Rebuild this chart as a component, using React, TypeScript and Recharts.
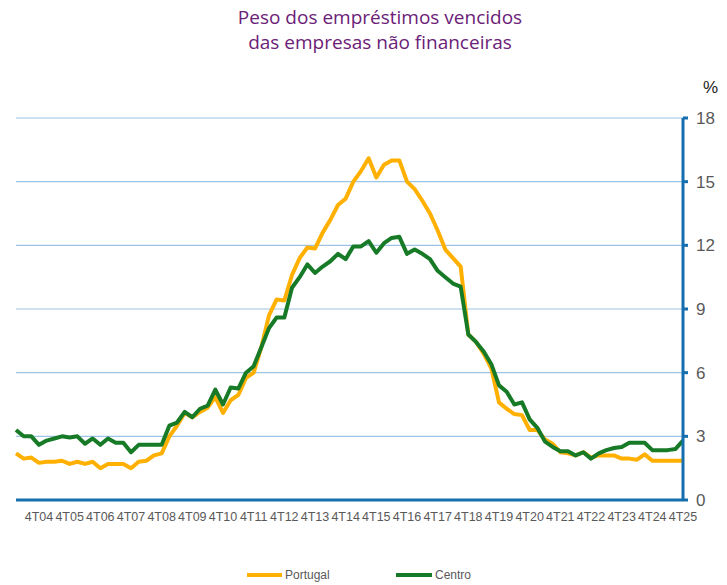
import React from 'react';
import {
  LineChart, Line, XAxis, YAxis, CartesianGrid,
} from 'recharts';

// 1T04 .. 4T25, quarterly
const years = ['04', '05', '06', '07', '08', '09', '10', '11', '12', '13', '14',
  '15', '16', '17', '18', '19', '20', '21', '22', '23', '24', '25'];

const quarters: string[] = [];
years.forEach((y) => {
  for (let q = 1; q <= 4; q++) quarters.push(`${q}T${y}`);
});

const portugal = [
  2.2, 1.95, 2.0, 1.75, 1.8, 1.8, 1.85, 1.7, 1.8, 1.7,
  1.8, 1.5, 1.7, 1.7, 1.7, 1.5, 1.8, 1.85, 2.1, 2.2,
  3.0, 3.5, 4.1, 3.9, 4.15, 4.35, 4.85, 4.1, 4.7, 4.95,
  5.75, 6.0, 7.2, 8.7, 9.45, 9.4, 10.6, 11.4, 11.9, 11.85,
  12.6, 13.2, 13.9, 14.2, 15.0, 15.5, 16.1, 15.2, 15.8, 16.0,
  16.0, 15.0, 14.65, 14.1, 13.5, 12.7, 11.8, 11.4, 11.0, 7.8,
  7.45, 6.9, 6.2, 4.6, 4.3, 4.05, 4.0, 3.3, 3.3, 2.85,
  2.65, 2.25, 2.2, 2.1, 2.25, 2.0, 2.1, 2.1, 2.1, 1.95,
  1.95, 1.9, 2.15, 1.85, 1.85, 1.85, 1.85, 1.85,
];

const centro = [
  3.3, 3.0, 3.0, 2.6, 2.8, 2.9, 3.0, 2.95, 3.0, 2.65,
  2.9, 2.6, 2.9, 2.7, 2.7, 2.25, 2.6, 2.6, 2.6, 2.6,
  3.5, 3.65, 4.15, 3.9, 4.3, 4.45, 5.2, 4.5, 5.3, 5.25,
  6.0, 6.3, 7.2, 8.1, 8.6, 8.6, 10.0, 10.5, 11.1, 10.7,
  11.0, 11.25, 11.6, 11.35, 11.95, 11.95, 12.2, 11.65, 12.1, 12.35,
  12.4, 11.6, 11.8, 11.6, 11.35, 10.8, 10.5, 10.2, 10.05, 7.8,
  7.45, 7.0, 6.4, 5.4, 5.1, 4.5, 4.6, 3.8, 3.4, 2.75,
  2.5, 2.3, 2.3, 2.1, 2.25, 1.95, 2.2, 2.35, 2.45, 2.5,
  2.7, 2.7, 2.7, 2.35, 2.35, 2.35, 2.4, 2.8,
];

const yTicks = [0, 3, 6, 9, 12, 15, 18];
const xTicks = quarters.filter((q) => q.startsWith('4T'));

const data = quarters.map((q, i) => ({ q, portugal: portugal[i], centro: centro[i] }));

const ORANGE = '#FFB000';
const GREEN = '#177A27';
const BLUE = '#156EAD';
const GREY = '#595959';

export default function App() {
  return (
    <div style={{ position: 'absolute', left: 0, top: 0, width: 727, height: 585, background: '#fff', fontFamily: '"Liberation Sans", Arial, sans-serif' }}>
      <div style={{
        position: 'absolute', left: 0, top: 5, width: 760, textAlign: 'center',
        color: '#6B2177', fontFamily: '"Open Sans", sans-serif', fontSize: 19, lineHeight: '25px',
      }}>
        Peso dos empréstimos vencidos<br />das empresas não financeiras
      </div>
      <div style={{ position: 'absolute', left: 703, top: 78, color: '#222', fontSize: 17 }}>%</div>
      <LineChart
        width={727}
        height={585}
        data={data}
        margin={{ top: 118, right: 0, bottom: 55, left: 16 }}
      >
        <CartesianGrid vertical={false} stroke="#9DC3E6" strokeWidth={1.2} />
        <XAxis
          dataKey="q"
          ticks={xTicks}
          interval={0}
          height={30}
          axisLine={{ stroke: BLUE, strokeWidth: 3 }}
          tickLine={false}
          tick={{ fill: GREY, fontSize: 12.5 }}
          tickMargin={6}
        />
        <YAxis
          orientation="right"
          domain={[0, 18]}
          ticks={yTicks}
          interval={0}
          axisLine={{ stroke: BLUE, strokeWidth: 3 }}
          tickLine={{ stroke: BLUE, strokeWidth: 3 }}
          tickSize={5}
          tickMargin={8}
          tick={{ fill: GREY, fontSize: 17, textAnchor: 'start' }}
          width={44}
        />
        <Line type="linear" dataKey="portugal" stroke={ORANGE} strokeWidth={4} dot={false} isAnimationActive={false} strokeLinejoin="round" />
        <Line type="linear" dataKey="centro" stroke={GREEN} strokeWidth={4} dot={false} isAnimationActive={false} strokeLinejoin="round" />
      </LineChart>
      <div style={{ position: 'absolute', left: 247, top: 568, display: 'flex', alignItems: 'center', color: GREY, fontSize: 12 }}>
        <span style={{ display: 'inline-block', width: 35, height: 4, background: ORANGE, marginRight: 3 }} />
        Portugal
      </div>
      <div style={{ position: 'absolute', left: 396, top: 568, display: 'flex', alignItems: 'center', color: GREY, fontSize: 12 }}>
        <span style={{ display: 'inline-block', width: 36, height: 4, background: GREEN, marginRight: 3 }} />
        Centro
      </div>
    </div>
  );
}
